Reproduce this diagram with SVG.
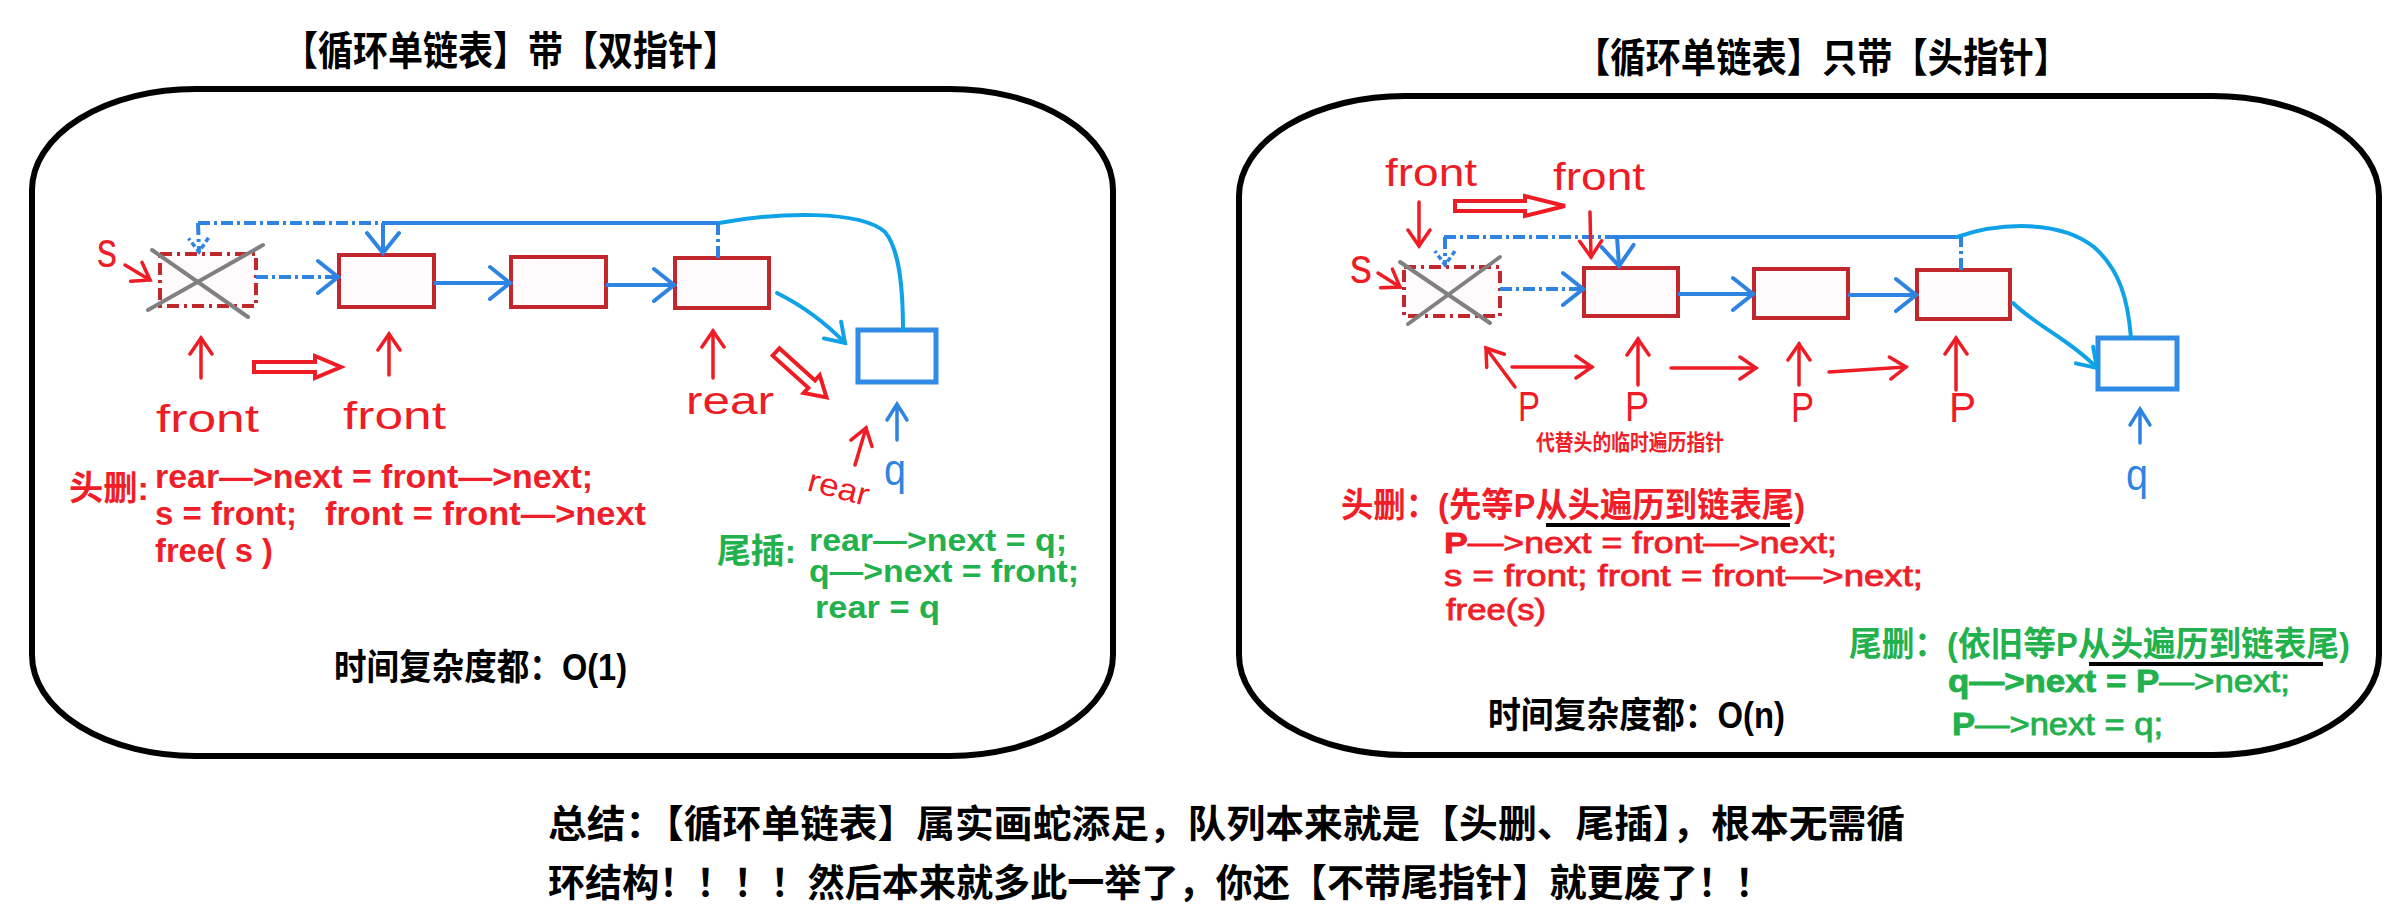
<svg xmlns="http://www.w3.org/2000/svg" width="2403" height="914" viewBox="0 0 2403 914">
<style>
.panel{fill:none;stroke:#000;stroke-width:6}
.node{fill:#fffafb;stroke:#c1272d;stroke-width:4}
.del{fill:#fffafb;stroke:#c1272d;stroke-width:4;stroke-dasharray:12 5 3 5}
.xline{stroke:#808080;stroke-width:4;stroke-linecap:round}
.qnode{fill:#fff;stroke:#2f8be6;stroke-width:5}
.bl{fill:none;stroke:#2e84e0;stroke-width:4}
.bld{fill:none;stroke:#2e84e0;stroke-width:4;stroke-dasharray:12 4 3 4}
.cy{fill:none;stroke:#10a2e6;stroke-width:4;stroke-linecap:round}
.ra{fill:none;stroke:#ee1c25;stroke-width:3.5;stroke-linecap:round}
.hol{fill:#fff;stroke:#ee1c25;stroke-width:4;stroke-linejoin:miter}
.hw{font-family:"Liberation Sans",sans-serif;fill:#ee1c25}
.hwb{font-family:"Liberation Sans",sans-serif;fill:#2e84e0}
.t{font-family:"Liberation Sans","Noto Sans CJK SC",sans-serif;font-weight:bold}
.m{font-family:"Liberation Sans",sans-serif;stroke-width:0.8}
.ttl{font-family:"Noto Sans CJK SC",sans-serif;font-weight:bold;font-size:40px;fill:#000}
.red{fill:#f01e28}
.grn{fill:#22b14c}
.blk{fill:#000}
.m.red{stroke:#f01e28}
.m.grn{stroke:#22b14c}
.ul{stroke:#000;stroke-width:4}
</style>
<defs>
<marker id="ab" markerUnits="userSpaceOnUse" markerWidth="28" markerHeight="38" viewBox="-25 -19 28 38" refX="0" refY="0" orient="auto"><path d="M-20,-16 L0,0 L-20,16" fill="none" stroke="#2e84e0" stroke-width="4" stroke-linecap="round"/></marker>
<marker id="ac" markerUnits="userSpaceOnUse" markerWidth="28" markerHeight="38" viewBox="-25 -19 28 38" refX="0" refY="0" orient="auto"><path d="M-18,-12 L0,0 L-18,12" fill="none" stroke="#10a2e6" stroke-width="4" stroke-linecap="round"/></marker>
<marker id="as" markerUnits="userSpaceOnUse" markerWidth="22" markerHeight="26" viewBox="-18 -13 22 26" refX="0" refY="0" orient="auto"><path d="M-14,-10 L0,0 L-14,10" fill="none" stroke="#2e84e0" stroke-width="3.5" stroke-dasharray="5 3"/></marker>
<marker id="ar" markerUnits="userSpaceOnUse" markerWidth="22" markerHeight="28" viewBox="-19 -14 22 28" refX="0" refY="0" orient="auto"><path d="M-16,-11 L0,0 L-16,11" fill="none" stroke="#ee1c25" stroke-width="3.5" stroke-linecap="round"/></marker>
</defs>
<rect width="2403" height="914" fill="#fff"/>

<!-- titles -->
<text id="title-left" class="ttl" x="283" y="65" textLength="455" lengthAdjust="spacingAndGlyphs">【循环单链表】带【双指针】</text>
<text id="title-right" class="ttl" x="1575" y="72" textLength="494" lengthAdjust="spacingAndGlyphs">【循环单链表】只带【头指针】</text>

<!-- panels -->
<g id="panel-left"><rect class="panel" x="32" y="89" width="1081" height="667" rx="163" ry="101"/></g>
<g id="panel-right"><rect class="panel" x="1239" y="96" width="1140" height="659" rx="166" ry="100"/></g>

<!-- LEFT nodes -->
<g id="L-del"><rect class="del" x="160" y="254" width="96" height="52"/><line class="xline" x1="152" y1="250" x2="248" y2="317"/><line class="xline" x1="148" y1="310" x2="263" y2="245"/></g>
<g id="L-n1"><rect class="node" x="339" y="255" width="95" height="52"/></g>
<g id="L-n2"><rect class="node" x="511" y="257" width="95" height="50"/></g>
<g id="L-n3"><rect class="node" x="675" y="258" width="94" height="50"/></g>
<g id="L-q"><rect class="qnode" x="858" y="330" width="78" height="52"/></g>

<!-- RIGHT nodes -->
<g id="R-del"><rect class="del" x="1404" y="267" width="96" height="49"/><line class="xline" x1="1400" y1="262" x2="1490" y2="323"/><line class="xline" x1="1408" y1="324" x2="1500" y2="257"/></g>
<g id="R-n1"><rect class="node" x="1584" y="268" width="94" height="48"/></g>
<g id="R-n2"><rect class="node" x="1754" y="269" width="94" height="49"/></g>
<g id="R-n3"><rect class="node" x="1917" y="270" width="93" height="49"/></g>
<g id="R-q"><rect class="qnode" x="2098" y="338" width="79" height="51"/></g>

<!-- connectors -->
<g id="connectors">
  <path class="bld" d="M198,223 L383,223"/>
  <path class="bld" d="M198,223 L199,252" marker-end="url(#as)"/>
  <path class="bl" d="M383,223 L719,223"/>
  <path class="cy" d="M719,223 C780,212 860,210 885,232 C900,250 903,290 903,330"/>
  <path class="bl" d="M383,223 L383,253" marker-end="url(#ab)"/>
  <path class="bld" d="M718,258 L718,223"/>
  <path class="bld" d="M256,277 L338,277" marker-end="url(#ab)"/>
  <path class="bl" d="M434,283 L510,283" marker-end="url(#ab)"/>
  <path class="bl" d="M606,285 L674,285" marker-end="url(#ab)"/>
  <path class="cy" d="M777,293 Q815,312 845,343" marker-end="url(#ac)"/>

  <path class="bld" d="M1444,237 L1617,237"/>
  <path class="bld" d="M1445,237 L1445,265" marker-end="url(#as)"/>
  <path class="bl" d="M1617,237 L1957,237"/>
  <path class="cy" d="M1957,237 C2000,222 2060,220 2094,247 C2120,270 2128,300 2131,338"/>
  <path class="bl" d="M1617,237 L1619,266" marker-end="url(#ab)"/>
  <path class="bld" d="M1961,270 L1961,237"/>
  <path class="bld" d="M1500,289 L1583,289" marker-end="url(#ab)"/>
  <path class="bl" d="M1678,294 L1753,294" marker-end="url(#ab)"/>
  <path class="bl" d="M1848,295 L1916,295" marker-end="url(#ab)"/>
  <path class="cy" d="M2013,303 C2035,325 2070,340 2097,368" marker-end="url(#ac)"/>
</g>

<!-- LEFT annotations -->
<g id="L-annot">
  <text class="hw" x="97" y="267" font-size="50" textLength="20" lengthAdjust="spacingAndGlyphs">s</text>
  <path class="ra" d="M125,265 L150,280" marker-end="url(#ar)"/>
  <path class="ra" d="M201,378 L201,338" marker-end="url(#ar)"/>
  <path class="ra" d="M389,375 L389,334" marker-end="url(#ar)"/>
  <path class="ra" d="M713,378 L713,331" marker-end="url(#ar)"/>
  <polygon class="hol" points="254,362 315,362 315,356 341,367 315,378 315,372 254,372"/>
  <text class="hw" x="156" y="432" font-size="38" textLength="103" lengthAdjust="spacingAndGlyphs">front</text>
  <text class="hw" x="343" y="429" font-size="38" textLength="103" lengthAdjust="spacingAndGlyphs">front</text>
  <text class="hw" x="686" y="414" font-size="38" textLength="88" lengthAdjust="spacingAndGlyphs">rear</text>
  <g transform="translate(776,352) rotate(42)"><polygon class="hol" points="0,-5 48,-5 48,-12 68,0 48,12 48,5 0,5"/></g>
  <path class="ra" d="M855,465 L866,428" marker-end="url(#ar)"/>
  <text class="hw" transform="translate(806,490) rotate(15)" font-size="32" textLength="62" lengthAdjust="spacingAndGlyphs">rear</text>
  <path d="M897,440 L897,405 M887,420 L897,404 L907,420" fill="none" stroke="#2e84e0" stroke-width="3.5" stroke-linecap="round"/>
  <text class="hwb" x="884" y="485" font-size="44" textLength="22" lengthAdjust="spacingAndGlyphs">q</text>
</g>

<!-- RIGHT annotations -->
<g id="R-annot">
  <text class="hw" x="1385" y="186" font-size="38" textLength="92" lengthAdjust="spacingAndGlyphs">front</text>
  <text class="hw" x="1553" y="190" font-size="38" textLength="92" lengthAdjust="spacingAndGlyphs">front</text>
  <path class="ra" d="M1419,202 L1419,246" marker-end="url(#ar)"/>
  <path class="ra" d="M1590,212 L1591,257" marker-end="url(#ar)"/>
  <polygon class="hol" points="1455,201 1525,201 1525,196 1565,206 1525,216 1525,211 1455,211"/>
  <text class="hw" x="1350" y="283" font-size="50" textLength="22" lengthAdjust="spacingAndGlyphs">s</text>
  <path class="ra" d="M1378,273 L1400,287" marker-end="url(#ar)"/>
  <path class="ra" d="M1515,387 L1486,348" marker-end="url(#ar)"/>
  <path class="ra" d="M1512,367 L1592,367" marker-end="url(#ar)"/>
  <path class="ra" d="M1638,385 L1638,339" marker-end="url(#ar)"/>
  <path class="ra" d="M1671,368 L1756,368" marker-end="url(#ar)"/>
  <path class="ra" d="M1799,385 L1799,344" marker-end="url(#ar)"/>
  <path class="ra" d="M1829,372 L1906,367" marker-end="url(#ar)"/>
  <path class="ra" d="M1956,390 L1956,338" marker-end="url(#ar)"/>
  <text class="hw" x="1518" y="421" font-size="42" textLength="22" lengthAdjust="spacingAndGlyphs">P</text>
  <text class="hw" x="1625" y="421" font-size="42" textLength="24" lengthAdjust="spacingAndGlyphs">P</text>
  <text class="hw" x="1791" y="422" font-size="42" textLength="23" lengthAdjust="spacingAndGlyphs">P</text>
  <text class="hw" x="1949" y="422" font-size="42" textLength="27" lengthAdjust="spacingAndGlyphs">P</text>
  <text class="t red" x="1536" y="450" font-size="22" textLength="188" lengthAdjust="spacingAndGlyphs">代替头的临时遍历指针</text>
  <path d="M2140,443 L2140,410 M2130,425 L2140,409 L2150,425" fill="none" stroke="#2e84e0" stroke-width="3.5" stroke-linecap="round"/>
  <text class="hwb" x="2126" y="490" font-size="44" textLength="22" lengthAdjust="spacingAndGlyphs">q</text>
</g>

<!-- LEFT code -->
<g id="L-code">
  <text class="t red" x="69" y="500" font-size="34" textLength="80" lengthAdjust="spacingAndGlyphs">头删:</text>
  <text class="t red" x="155" y="488" font-size="34" textLength="438" lengthAdjust="spacingAndGlyphs">rear—&gt;next = front—&gt;next;</text>
  <text class="t red" x="155" y="525" font-size="34" textLength="142" lengthAdjust="spacingAndGlyphs">s = front;</text>
  <text class="t red" x="325" y="525" font-size="34" textLength="321" lengthAdjust="spacingAndGlyphs">front = front—&gt;next</text>
  <text class="t red" x="155" y="562" font-size="34" textLength="118" lengthAdjust="spacingAndGlyphs">free( s )</text>
  <text class="t grn" x="717" y="563" font-size="34" textLength="79" lengthAdjust="spacingAndGlyphs">尾插:</text>
  <text class="t grn" x="809" y="551" font-size="31" textLength="258" lengthAdjust="spacingAndGlyphs">rear—&gt;next = q;</text>
  <text class="t grn" x="809" y="582" font-size="31" textLength="270" lengthAdjust="spacingAndGlyphs">q—&gt;next = front;</text>
  <text class="t grn" x="815" y="618" font-size="31" textLength="125" lengthAdjust="spacingAndGlyphs">rear = q</text>
  <text class="t blk" x="334" y="680" font-size="36" textLength="293" lengthAdjust="spacingAndGlyphs">时间复杂度都：O(1)</text>
</g>

<!-- RIGHT code -->
<g id="R-code">
  <text class="t red" x="1341" y="517" font-size="34" textLength="464" lengthAdjust="spacingAndGlyphs">头删：(先等P从头遍历到链表尾)</text>
  <line class="ul" x1="1546" y1="525" x2="1790" y2="525"/>
  <text class="m red" x="1444" y="553" font-size="29" textLength="393" lengthAdjust="spacingAndGlyphs"><tspan font-weight="bold">P</tspan>—&gt;next = front—&gt;next;</text>
  <text class="m red" x="1444" y="586" font-size="29" textLength="479" lengthAdjust="spacingAndGlyphs">s = front; front = front—&gt;next;</text>
  <text class="m red" x="1446" y="620" font-size="29" textLength="100" lengthAdjust="spacingAndGlyphs">free(s)</text>
  <text class="t grn" x="1849" y="656" font-size="34" textLength="501" lengthAdjust="spacingAndGlyphs">尾删：(依旧等P从头遍历到链表尾)</text>
  <line class="ul" x1="2089" y1="664" x2="2323" y2="664"/>
  <text class="m grn" x="1948" y="692" font-size="31" textLength="342" lengthAdjust="spacingAndGlyphs"><tspan font-weight="bold">q—&gt;next = P</tspan>—&gt;next;</text>
  <text class="m grn" x="1952" y="735" font-size="31" textLength="211" lengthAdjust="spacingAndGlyphs"><tspan font-weight="bold">P</tspan>—&gt;next = q;</text>
  <text class="t blk" x="1488" y="728" font-size="36" textLength="297" lengthAdjust="spacingAndGlyphs">时间复杂度都：O(n)</text>
</g>

<!-- summary -->
<g id="summary">
  <text class="t blk" x="548" y="837" font-size="38" textLength="1357" lengthAdjust="spacingAndGlyphs">总结：【循环单链表】属实画蛇添足，队列本来就是【头删、尾插】，根本无需循</text>
  <text class="t blk" x="548" y="896" font-size="38" textLength="1224" lengthAdjust="spacingAndGlyphs">环结构！！！！然后本来就多此一举了，你还【不带尾指针】就更废了！！</text>
</g>
</svg>
